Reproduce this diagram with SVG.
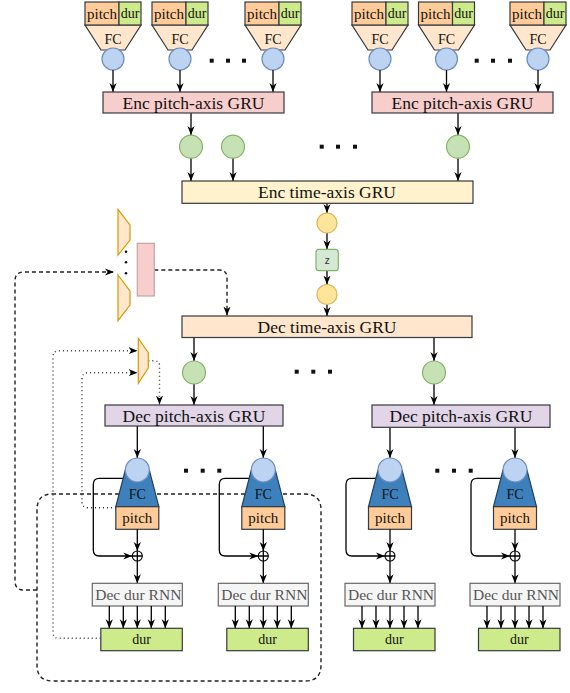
<svg xmlns="http://www.w3.org/2000/svg" width="570" height="693" viewBox="0 0 570 693" font-family="'Liberation Serif', 'DejaVu Serif', 'Times New Roman', serif">
<style>
  text { font-family: 'Liberation Serif', 'DejaVu Serif', 'Times New Roman', serif; fill: #111; text-anchor: middle; dominant-baseline: central; }
  .t17 { font-size: 17.5px; }
  .t15 { font-size: 15px; }
  .t14 { font-size: 14px; }
  .pitch { fill: #ffcc99; stroke: #36393d; stroke-width: 1.2; }
  .dur { fill: #cdeb8b; stroke: #36393d; stroke-width: 1.2; }
  .fcIn { fill: #ffe6cc; stroke: #36393d; stroke-width: 1.2; }
  .fcOut { fill: #3d80bb; stroke: #1f3f5f; stroke-width: 1.2; }
  .blue { fill: #bcd3f1; stroke: #6c8ebf; stroke-width: 1.2; }
  .green { fill: #c6e2b4; stroke: #82b366; stroke-width: 1.2; }
  .yellow { fill: #ffe599; stroke: #d6b656; stroke-width: 1.2; }
  .encP { fill: #f8cecc; stroke: #36393d; stroke-width: 1.2; }
  .encT { fill: #fff2cc; stroke: #36393d; stroke-width: 1.2; }
  .decT { fill: #ffe6cc; stroke: #36393d; stroke-width: 1.2; }
  .decP { fill: #e1d5e7; stroke: #36393d; stroke-width: 1.2; }
  .rnn { fill: #f5f5f5; stroke: #666666; stroke-width: 1.2; }
  .rnnT { fill: #555555; font-size: 15.5px; }
  .orange { fill: #ffe6cc; stroke: #d79b00; stroke-width: 1.2; }
  .arr { stroke: #000; stroke-width: 1.3; fill: none; marker-end: url(#ah); }
  .ln { stroke: #000; stroke-width: 1.3; fill: none; }
  .dash { stroke: #222; stroke-width: 1.4; fill: none; stroke-dasharray: 4 3; }
  .dot { stroke: #333; stroke-width: 1.4; fill: none; stroke-dasharray: 1 3; }
  .sq { fill: #111; }
</style>
<defs>
  <marker id="ah" viewBox="0 0 10 10" refX="10" refY="5" markerWidth="9" markerHeight="9" markerUnits="userSpaceOnUse" orient="auto">
    <path d="M0,1 L10,5 L0,9 L3,5 Z" fill="#000"/>
  </marker>
  <g id="inUnit">
    <polygon class="fcIn" points="-28,25 28,25 12,50 -12,50"/>
    <rect class="pitch" x="-28" y="2" width="34" height="23"/>
    <rect class="dur" x="6" y="2" width="22" height="23"/>
    <text class="t15" x="-11" y="13.5">pitch</text>
    <text class="t14" x="17" y="13.5">dur</text>
    <text class="t14" x="0" y="39">FC</text>
    <circle class="blue" cx="0" cy="59" r="11"/>
    <line class="arr" x1="0" y1="70" x2="0" y2="92"/>
  </g>
  <g id="outUnit">
    <path class="ln" d="M-14,478.3 H-38 Q-44,478.3 -44,484.3 V550 Q-44,556 -38,556 H-5" marker-end="url(#ah)"/>
    <polygon class="fcOut" points="-12,470 12,470 21.5,506.7 -21.5,506.7"/>
    <circle class="blue" cx="0" cy="470" r="12"/>
    <text class="t14" x="0" y="494">FC</text>
    <rect class="pitch" x="-21.5" y="506.7" width="43" height="22.6"/>
    <text class="t15" x="0" y="518">pitch</text>
    <line class="arr" x1="0" y1="529.3" x2="0" y2="551"/>
    <circle cx="0" cy="556" r="5" fill="#fff" stroke="#000" stroke-width="1.1"/>
    <path class="ln" d="M-5,556 H5 M0,551 V561" stroke-width="1"/>
    <line class="arr" x1="0" y1="561" x2="0" y2="583.3"/>
    <rect class="rnn" x="-45" y="583.3" width="90" height="22.7"/>
    <text class="rnnT" x="1" y="594.7">Dec dur RNN</text>
    <line class="arr" x1="-28" y1="606" x2="-28" y2="628.3"/>
    <line class="arr" x1="-14" y1="606" x2="-14" y2="628.3"/>
    <line class="arr" x1="0" y1="606" x2="0" y2="628.3"/>
    <line class="arr" x1="14" y1="606" x2="14" y2="628.3"/>
    <line class="arr" x1="28" y1="606" x2="28" y2="628.3"/>
    <rect class="dur" x="-36.5" y="628.3" width="81.5" height="22.4"/>
    <text class="t14" x="4.25" y="639.5">dur</text>
  </g>
</defs>

<!-- feedback loops (drawn beneath the nodes) -->
<g id="connectors">
  <path class="dash" d="M52,494 H305 Q321,494 321,510 V665 Q321,681 305,681 H53 Q37,681 37,665 V510 Q37,494 52,494 Z"/>
  <path class="dash" d="M37,590 H24 Q15,590 15,581 V281 Q15,272 24,272 H114" marker-end="url(#ah)"/>
  <path class="dash" d="M154.3,270 H219 Q227,270 227,278 V315.5" marker-end="url(#ah)"/>
  <path class="dot" d="M100.7,638.3 H59 Q53,638.3 53,632 V357 Q53,350.7 59,350.7 H137.5" marker-end="url(#ah)"/>
  <path class="dot" d="M116,507.7 H88 Q82,507.7 82,501.7 V379 Q82,372.7 88,372.7 H137.5" marker-end="url(#ah)"/>
  <path class="dot" d="M148.3,360.7 H154 Q159.5,360.7 159.5,366 V404.5" marker-end="url(#ah)"/>

  <!-- encoder -->
  <line class="arr" x1="191" y1="113" x2="191" y2="135"/>
  <line class="arr" x1="458" y1="113" x2="458" y2="135"/>
  <line class="arr" x1="191" y1="158.3" x2="191" y2="181"/>
  <line class="arr" x1="233" y1="158.3" x2="233" y2="181"/>
  <line class="arr" x1="458" y1="158.3" x2="458" y2="181"/>
  <line class="arr" x1="327" y1="203.3" x2="327" y2="213"/>
  <line class="arr" x1="327" y1="233" x2="327" y2="249.3"/>
  <line class="arr" x1="327" y1="270.7" x2="327" y2="284.5"/>
  <line class="arr" x1="327" y1="304.5" x2="327" y2="316"/>
  <!-- decoder -->
  <line class="arr" x1="194" y1="337.5" x2="194" y2="361"/>
  <line class="arr" x1="434" y1="337.5" x2="434" y2="361"/>
  <line class="arr" x1="194" y1="384" x2="194" y2="405"/>
  <line class="arr" x1="434" y1="384" x2="434" y2="405"/>
  <line class="arr" x1="137.3" y1="426" x2="137.3" y2="458"/>
  <line class="arr" x1="263.3" y1="426" x2="263.3" y2="458"/>
  <line class="arr" x1="390" y1="427.3" x2="390" y2="458"/>
  <line class="arr" x1="515" y1="427.3" x2="515" y2="458"/>
</g>

<!-- input note embeddings -->
<g id="in1"><use href="#inUnit" x="113"/></g>
<g id="in2"><use href="#inUnit" x="180"/></g>
<g id="in3"><use href="#inUnit" x="273"/></g>
<g id="in4"><use href="#inUnit" x="380"/></g>
<g id="in5"><use href="#inUnit" x="446.5"/></g>
<g id="in6"><use href="#inUnit" x="538"/></g>

<g id="encPitchA">
  <rect class="encP" x="103" y="92" width="181" height="21"/>
  <text class="t17" x="193.5" y="102.5">Enc pitch-axis GRU</text>
</g>
<g id="encPitchB">
  <rect class="encP" x="372" y="92" width="181" height="21"/>
  <text class="t17" x="462.5" y="102.5">Enc pitch-axis GRU</text>
</g>

<g id="encStates">
  <circle class="green" cx="191" cy="146.7" r="11.5"/>
  <circle class="green" cx="233" cy="146.7" r="11.5"/>
  <circle class="green" cx="458" cy="146.7" r="11.5"/>
</g>

<g id="encTime">
  <rect class="encT" x="182" y="181" width="291" height="22.3"/>
  <text class="t17" x="327" y="192.3">Enc time-axis GRU</text>
</g>

<g id="latent">
  <circle class="yellow" cx="327" cy="223" r="10"/>
  <rect x="316" y="249.3" width="22.3" height="21.4" rx="3" fill="#d5e8d4" stroke="#82b366" stroke-width="1.2"/>
  <text x="327.2" y="260" style="font-family:'Liberation Sans',Arial,sans-serif;font-size:10px;fill:#333">z</text>
  <circle class="yellow" cx="327" cy="294.5" r="10"/>
</g>

<g id="condition">
  <polygon class="orange" points="118,209.3 130,225 130,240 118,255"/>
  <polygon class="orange" points="118,275 130,291 130,305 118,320.7"/>
  <circle cx="126" cy="251.7" r="1.3" fill="#111"/>
  <circle cx="126" cy="262.3" r="1.3" fill="#111"/>
  <circle cx="126" cy="273.3" r="1.3" fill="#111"/>
  <rect x="137.3" y="243.3" width="17" height="52.7" fill="#f8cecc" stroke="#c4a4a4" stroke-width="1.2"/>
</g>

<g id="decTime">
  <rect class="decT" x="182" y="316" width="290" height="21.5"/>
  <text class="t17" x="327" y="326.8">Dec time-axis GRU</text>
</g>

<g id="decStates">
  <circle class="green" cx="194" cy="372.5" r="11.5"/>
  <circle class="green" cx="434" cy="372.5" r="11.5"/>
</g>

<g id="pitchFeedback">
  <polygon class="orange" points="138.3,338.3 148.3,352.7 148.3,368 138.3,383.3"/>
</g>

<g id="decPitchA">
  <rect class="decP" x="105" y="405" width="178" height="21"/>
  <text class="t17" x="194" y="415.5">Dec pitch-axis GRU</text>
</g>
<g id="decPitchB">
  <rect class="decP" x="372" y="405" width="178" height="22.3"/>
  <text class="t17" x="461" y="416">Dec pitch-axis GRU</text>
</g>

<!-- output notes -->
<g id="out1"><use href="#outUnit" x="137.3"/></g>
<g id="out2"><use href="#outUnit" x="263.3"/></g>
<g id="out3"><use href="#outUnit" x="390"/></g>
<g id="out4"><use href="#outUnit" x="515"/></g>

<!-- ellipses -->
<g id="ellipses">
  <rect class="sq" x="209.7" y="58.7" width="4" height="4"/>
  <rect class="sq" x="226" y="58.7" width="4" height="4"/>
  <rect class="sq" x="242" y="58.7" width="4" height="4"/>
  <rect class="sq" x="474.7" y="58.7" width="4" height="4"/>
  <rect class="sq" x="491" y="58.7" width="4" height="4"/>
  <rect class="sq" x="508" y="58.7" width="4" height="4"/>
  <rect class="sq" x="319.7" y="144.7" width="4" height="4"/>
  <rect class="sq" x="336" y="144.7" width="4" height="4"/>
  <rect class="sq" x="353" y="144.7" width="4" height="4"/>
  <rect class="sq" x="294.7" y="369.7" width="4" height="4"/>
  <rect class="sq" x="311.3" y="369.7" width="4" height="4"/>
  <rect class="sq" x="328" y="369.7" width="4" height="4"/>
  <rect class="sq" x="184" y="468.7" width="4" height="4"/>
  <rect class="sq" x="200.7" y="468.7" width="4" height="4"/>
  <rect class="sq" x="217.3" y="468.7" width="4" height="4"/>
  <rect class="sq" x="435.3" y="468.7" width="4" height="4"/>
  <rect class="sq" x="452" y="468.7" width="4" height="4"/>
  <rect class="sq" x="468.7" y="468.7" width="4" height="4"/>
</g>
</svg>
